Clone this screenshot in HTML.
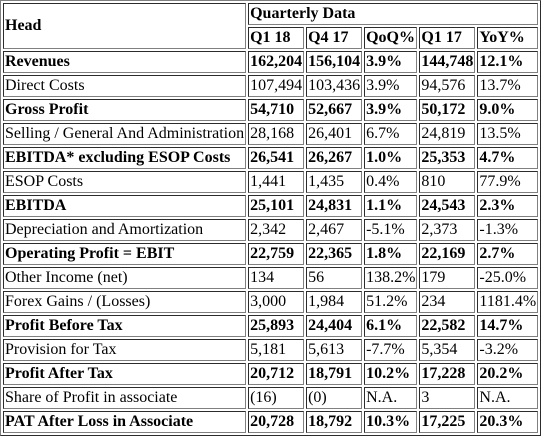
<!DOCTYPE html>
<html><head><meta charset="utf-8"><style>
html,body{margin:0;padding:0;background:#fff;}
table,td,b{font-family:"Liberation Serif","Times New Roman",Times,serif;}
table{font-size:16px;color:#000;border-color:#808080;}
td{padding:1px;border-color:#808080;white-space:nowrap;font-size:16px;}
tr.b td{font-weight:bold;}
</style></head><body>
<table border="1" cellspacing="2" cellpadding="1">
<tr><td rowspan="2"><b>Head</b></td><td colspan="5"><b>Quarterly Data</b></td></tr>
<tr class="b"><td>Q1 18</td><td>Q4 17</td><td>QoQ%</td><td>Q1 17</td><td>YoY%</td></tr>
<tr class="b"><td>Revenues</td><td>162,204</td><td>156,104</td><td>3.9%</td><td>144,748</td><td>12.1%</td></tr>
<tr><td>Direct Costs</td><td>107,494</td><td>103,436</td><td>3.9%</td><td>94,576</td><td>13.7%</td></tr>
<tr class="b"><td>Gross Profit</td><td>54,710</td><td>52,667</td><td>3.9%</td><td>50,172</td><td>9.0%</td></tr>
<tr><td>Selling / General And Administration</td><td>28,168</td><td>26,401</td><td>6.7%</td><td>24,819</td><td>13.5%</td></tr>
<tr class="b"><td>EBITDA* excluding ESOP Costs</td><td>26,541</td><td>26,267</td><td>1.0%</td><td>25,353</td><td>4.7%</td></tr>
<tr><td>ESOP Costs</td><td>1,441</td><td>1,435</td><td>0.4%</td><td>810</td><td>77.9%</td></tr>
<tr class="b"><td>EBITDA</td><td>25,101</td><td>24,831</td><td>1.1%</td><td>24,543</td><td>2.3%</td></tr>
<tr><td>Depreciation and Amortization</td><td>2,342</td><td>2,467</td><td>-5.1%</td><td>2,373</td><td>-1.3%</td></tr>
<tr class="b"><td>Operating Profit = EBIT</td><td>22,759</td><td>22,365</td><td>1.8%</td><td>22,169</td><td>2.7%</td></tr>
<tr><td>Other Income (net)</td><td>134</td><td>56</td><td>138.2%</td><td>179</td><td>-25.0%</td></tr>
<tr><td>Forex Gains / (Losses)</td><td>3,000</td><td>1,984</td><td>51.2%</td><td>234</td><td>1181.4%</td></tr>
<tr class="b"><td>Profit Before Tax</td><td>25,893</td><td>24,404</td><td>6.1%</td><td>22,582</td><td>14.7%</td></tr>
<tr><td>Provision for Tax</td><td>5,181</td><td>5,613</td><td>-7.7%</td><td>5,354</td><td>-3.2%</td></tr>
<tr class="b"><td>Profit After Tax</td><td>20,712</td><td>18,791</td><td>10.2%</td><td>17,228</td><td>20.2%</td></tr>
<tr><td>Share of Profit in associate</td><td>(16)</td><td>(0)</td><td>N.A.</td><td>3</td><td>N.A.</td></tr>
<tr class="b"><td>PAT After Loss in Associate</td><td>20,728</td><td>18,792</td><td>10.3%</td><td>17,225</td><td>20.3%</td></tr>
</table>
</body></html>
